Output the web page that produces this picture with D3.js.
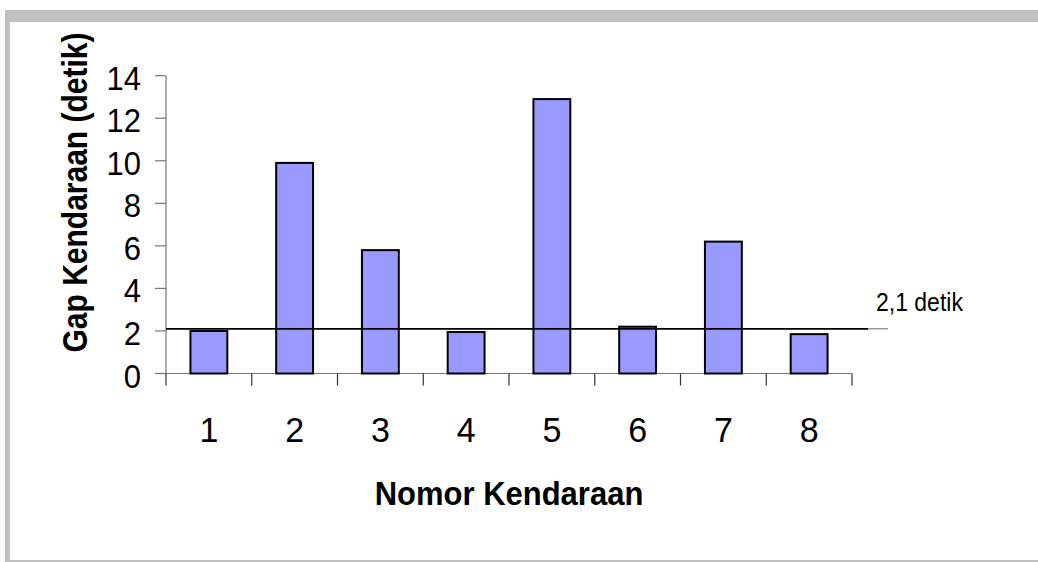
<!DOCTYPE html>
<html>
<head>
<meta charset="utf-8">
<script src="https://cdn.jsdelivr.net/npm/d3@7"></script>
<style>
  body { margin: 0; background: #fff; }
  text { font-family: "Liberation Sans", Arial, sans-serif; fill: #000; }
</style>
</head>
<body>
<svg id="chart" width="1038" height="562"></svg>
<script>
// vehicle gaps
var vehicles = ["1", "2", "3", "4", "5", "6", "7", "8"]
var gaps = [2.0, 9.9, 5.8, 1.95, 12.9, 2.2, 6.2, 1.85]
var yTicks = [0, 2, 4, 6, 8, 10, 12, 14]
var refValue = 2.1
var refLabel = "2,1 detik"

var svg = d3.select("#chart")

// grey frame round the chart area
svg.append("rect").attr("x", 5).attr("y", 10).attr("width", 1033).attr("height", 552).attr("fill", "#c0c0c0")
svg.append("rect").attr("x", 10).attr("y", 22).attr("width", 1028).attr("height", 538).attr("fill", "#fff")

var x = d3.scaleBand()
    .domain(vehicles)
    .range([166, 852])
    .paddingInner(0.57)
    .paddingOuter(0.285)

var y = d3.scaleLinear()
    .domain([0, 14])
    .range([373.5, 75.7])

var step = x.step()

// text that is a bit taller than wide, like the original
function stretched(sel, tx, ty, k, rot) {
  return sel.attr("transform", "translate(" + tx + "," + ty + ")" + (rot ? " rotate(" + rot + ")" : "") + " scale(1," + k + ")")
}

// y axis
var yAxis = svg.append("g")
yAxis.append("line")
    .attr("x1", 166).attr("x2", 166)
    .attr("y1", y(14)).attr("y2", y(0))
    .attr("stroke", "#777").attr("stroke-width", 1.2)
yAxis.selectAll(".ytick").data(yTicks).enter().append("line")
    .attr("x1", 155).attr("x2", 166)
    .attr("y1", function(d) { return y(d) }).attr("y2", function(d) { return y(d) })
    .attr("stroke", "#777").attr("stroke-width", 1.2)
yAxis.selectAll(".ylab").data(yTicks).enter().append("text")
    .attr("transform", function(d) { return "translate(141," + (y(d) + 14) + ") scale(1,1.05)" })
    .attr("text-anchor", "end")
    .style("font-size", "31px")
    .text(function(d) { return d })

// x axis
var xAxis = svg.append("g")
xAxis.append("line")
    .attr("x1", 166).attr("x2", 852)
    .attr("y1", y(0)).attr("y2", y(0))
    .attr("stroke", "#777").attr("stroke-width", 1.2)
var bounds = vehicles.map(function(v) { return x(v) - step * 0.285 })
bounds.push(852)
xAxis.selectAll(".xtick").data(bounds).enter().append("line")
    .attr("x1", function(d) { return d }).attr("x2", function(d) { return d })
    .attr("y1", y(0)).attr("y2", y(0) + 12)
    .attr("stroke", "#333").attr("stroke-width", 1.2)
xAxis.selectAll(".xlab").data(vehicles).enter().append("text")
    .attr("transform", function(d) { return "translate(" + (x(d) + x.bandwidth() / 2) + ",442) scale(1,1.05)" })
    .attr("text-anchor", "middle")
    .style("font-size", "34px")
    .text(function(d) { return d })

// bars
svg.selectAll(".bar").data(gaps).enter().append("rect")
    .attr("class", "bar")
    .attr("x", function(d, i) { return x(vehicles[i]) })
    .attr("y", function(d) { return y(d) })
    .attr("width", x.bandwidth())
    .attr("height", function(d) { return y(0) - y(d) })
    .attr("fill", "#9999ff")
    .attr("stroke", "#000")
    .attr("stroke-width", 2)

// reference line
svg.append("line")
    .attr("x1", 166).attr("x2", 868)
    .attr("y1", y(refValue)).attr("y2", y(refValue))
    .attr("stroke", "#000").attr("stroke-width", 1.8)
svg.append("line")
    .attr("x1", 868).attr("x2", 888)
    .attr("y1", y(refValue)).attr("y2", y(refValue))
    .attr("stroke", "#666").attr("stroke-width", 1)
stretched(svg.append("text"), 876, 311, 1.15)
    .style("font-size", "23px")
    .text(refLabel)

// axis titles
stretched(svg.append("text"), 509, 505, 1.1)
    .attr("text-anchor", "middle")
    .style("font-size", "31px").style("font-weight", "bold")
    .text("Nomor Kendaraan")
stretched(svg.append("text"), 87, 192.5, 1.14, -90)
    .attr("text-anchor", "middle")
    .style("font-size", "30px").style("font-weight", "bold")
    .text("Gap Kendaraan (detik)")
</script>
</body>
</html>
